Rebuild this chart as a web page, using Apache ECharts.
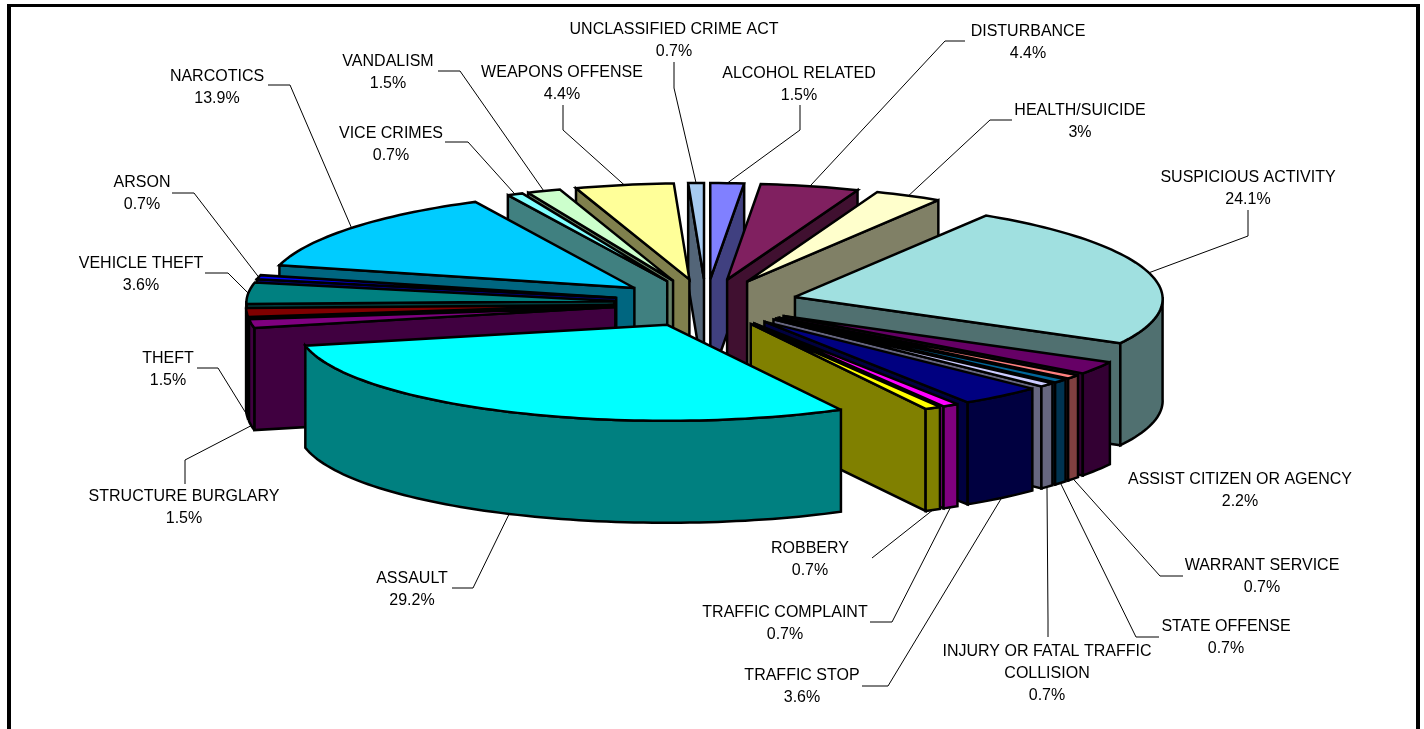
<!DOCTYPE html>
<html><head><meta charset="utf-8">
<style>html,body{margin:0;padding:0;background:#fff}#c{width:1424px;height:729px}</style>
<script src="https://cdn.jsdelivr.net/npm/echarts@6/dist/echarts.min.js"></script>
</head><body><div id="c"></div>
<script>
// ---- data ----
const categories = ["ALCOHOL RELATED","DISTURBANCE","HEALTH/SUICIDE","SUSPICIOUS ACTIVITY","ASSIST CITIZEN OR AGENCY","WARRANT SERVICE","STATE OFFENSE","INJURY OR FATAL TRAFFIC\nCOLLISION","TRAFFIC STOP","TRAFFIC COMPLAINT","ROBBERY","ASSAULT","STRUCTURE BURGLARY","THEFT","VEHICLE THEFT","ARSON","NARCOTICS","VICE CRIMES","VANDALISM","WEAPONS OFFENSE","UNCLASSIFIED CRIME ACT"];
const values = [1.5,4.4,3,24.1,2.2,0.7,0.7,0.7,3.6,0.7,0.7,29.2,1.5,1.5,3.6,0.7,13.9,0.7,1.5,4.4,0.7];
const topColors = ["#8080FF","#802060","#FFFFCC","#A0E0E0","#660066","#FF8080","#006699","#CCCCFF","#000080","#FF00FF","#FFFF00","#00FFFF","#800080","#800000","#008080","#0000FF","#00CCFF","#80FFFF","#CCFFCC","#FFFF99","#A6CAF0"];
const wallColors = ["#404080","#401030","#808066","#507070","#330033","#804040","#003350","#666680","#000040","#800080","#808000","#008080","#400040","#400000","#004040","#000080","#006680","#408080","#668066","#80804D","#536578"];
// ---- layout ----
const cx=706, cy=303, rx=368, ry=96, depth=102, explode=0.25, persp=0.00017;
const labelPos = [[799,63],[1028,21],[1080,100],[1248,167],[1240,469],[1262,555],[1226,616],[1047,641],[802,665],[785,602],[810,538],[412,568],[184,486],[168,348],[141,253],[142,172],[217,66],[391,123],[388,51],[562,62],[674,19]];
const leaderLegs = [[[800,105],[800,130]],[[965,41],[945,41]],[[1012,120],[990,120]],[[1248,210],[1248,236]],null,[[1183,576],[1160,576]],[[1159,637],[1136,637]],[[1048,637],[1048,620]],[[862,686],[888,686]],[[870,622],[892,622]],[[872,558],[872,558]],[[452,588],[473,588]],[[185,484],[185,460]],[[197,368],[218,368]],[[205,273],[228,273]],[[172,193],[194,193]],[[268,85],[290,85]],[[445,142],[468,142]],[[438,71],[460,71]],[[563,105],[563,130]],[[674,62],[674,88]]];

const total = values.reduce((a,b)=>a+b,0);
const starts = []; values.reduce((acc,v,i)=>{starts[i]=acc; return acc+v;},0);
const rad = p => p/total*Math.PI*2;
const proj = (x,y) => [cx+(x-cx)*(1+(y-cy)*persp), y];
function pt(ox,oy,a){ return proj(ox+rx*Math.sin(a), oy-ry*Math.cos(a)); }

function renderSlice(params, api){
  const i = api.value(0), v = api.value(1);
  const a0 = rad(starts[i]), a1 = rad(starts[i]+v), am=(a0+a1)/2;
  const ox = cx+explode*rx*Math.sin(am), oy = cy-explode*ry*Math.cos(am);
  const apex = proj(ox,oy);
  const base = -Math.cos(am)*1000+2000;
  const style = f => ({fill:f, stroke:'#000', lineWidth:2.5, lineJoin:'miter', miterLimit:3});
  const kids = [];
  const poly = (pts,f,z)=>kids.push({type:'polygon',shape:{points:pts},style:style(f),z2:base+z,silent:true});
  const shift = p=>[p[0],p[1]+depth];
  const radial = a => { const e=pt(ox,oy,a); return [apex,e,shift(e),shift(apex)]; };
  if(Math.sin(a0)<0) poly(radial(a0),wallColors[i],1);
  if(Math.sin(a1)>0) poly(radial(a1),wallColors[i],1);
  const lo=Math.max(a0,Math.PI/2), hi=Math.min(a1,Math.PI*1.5);
  if(hi>lo){
    const arc=[]; const n=Math.max(2,Math.ceil((hi-lo)*40));
    for(let k=0;k<=n;k++) arc.push(pt(ox,oy,lo+(hi-lo)*k/n));
    poly(arc.concat(arc.slice().reverse().map(shift)),wallColors[i],2);
  }
  const top=[apex]; const n=Math.max(2,Math.ceil((a1-a0)*40));
  for(let k=0;k<=n;k++) top.push(pt(ox,oy,a0+(a1-a0)*k/n));
  poly(top,topColors[i],3);
  // leader line from the label to the slice rim
  const rimTop = pt(ox,oy,am);
  const rim = Math.cos(am)<0 ? shift(rimTop) : rimTop;
  if(leaderLegs[i]){
    kids.push({type:'polyline',shape:{points:leaderLegs[i].concat([rim])},style:{fill:null,stroke:'#000',lineWidth:1},z2:1,silent:true});
  }
  kids.push({type:'text',x:labelPos[i][0],y:labelPos[i][1],z2:5000,silent:true,style:{text:categories[i]+'\n'+v+'%',fill:'#000',font:'16px "Liberation Sans", Arial, sans-serif',textAlign:'center',textVerticalAlign:'top',lineHeight:22}});
  return {type:'group',children:kids};
}

const chart = echarts.init(document.getElementById('c'),null,{renderer:'canvas'});
chart.setOption({
  animation:false,
  backgroundColor:'#fff',
  graphic:[
    {type:'rect',shape:{x:7,y:4,width:4,height:725},style:{fill:'#000'},silent:true},
    {type:'rect',shape:{x:7,y:4,width:1413,height:3},style:{fill:'#000'},silent:true},
    {type:'rect',shape:{x:1416,y:4,width:4,height:725},style:{fill:'#000'},silent:true}
  ],
  series:[{type:'custom',coordinateSystem:'none',silent:true,renderItem:renderSlice,data:values.map((v,i)=>[i,v])}]
});
</script></body></html>
